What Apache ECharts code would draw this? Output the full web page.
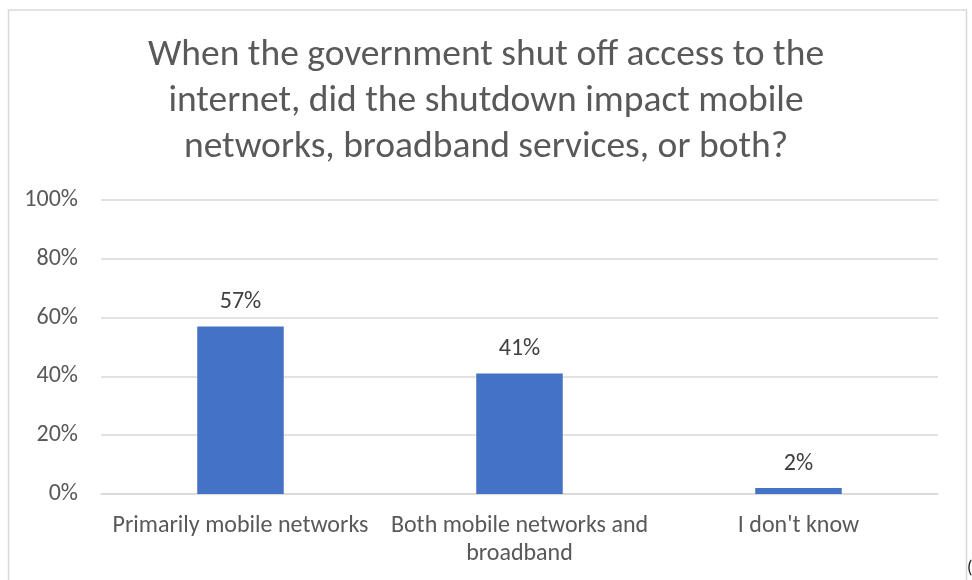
<!DOCTYPE html>
<html>
<head>
<meta charset="utf-8">
<script src="https://cdn.jsdelivr.net/npm/echarts@6/dist/echarts.min.js"></script>
<style>
  html, body { margin: 0; padding: 0; background: #fff; }
  #chart { width: 972px; height: 580px; }
</style>
</head>
<body>
<div id="chart"></div>
<script>
// Survey answers and their shares (percent)
const categories = ['Primarily mobile networks', 'Both mobile networks and\nbroadband', "I don't know"];
const shares = [57, 41, 2];
const yTicks = { min: 0, max: 100, step: 20 };
const titleText = 'When the government shut off access to the\ninternet, did the shutdown impact mobile\nnetworks, broadband services, or both?';

const FONT = 'Carlito, Lato, "Liberation Sans", sans-serif';

const chart = echarts.init(document.getElementById('chart'), null, { renderer: 'canvas' });
chart.setOption({
  backgroundColor: '#ffffff',
  animation: false,
  title: {
    text: titleText,
    left: 'center',
    top: 28,
    textStyle: {
      fontFamily: FONT,
      fontSize: 37.5,
      fontWeight: 'normal',
      color: '#595959',
      lineHeight: 46,
      align: 'center'
    }
  },
  graphic: [
    {
      type: 'rect',
      shape: { x: 8.5, y: 10, width: 958, height: 620 },
      style: { fill: 'none', stroke: '#d9d9d9', lineWidth: 1.5 },
      silent: true
    },
    {
      type: 'text',
      left: 967,
      top: 559,
      style: { text: '(', fontFamily: FONT, fontSize: 18, fill: '#222' },
      silent: true
    }
  ],
  grid: { left: 101, right: 34, top: 200, bottom: 86 },
  xAxis: {
    type: 'category',
    data: categories,
    axisLine: { show: true, lineStyle: { color: '#d9d9d9', width: 1.5 } },
    axisTick: { show: false },
    axisLabel: {
      interval: 0,
      margin: 18,
      fontFamily: FONT,
      fontSize: 24,
      color: '#595959',
      lineHeight: 28
    }
  },
  yAxis: {
    type: 'value',
    min: yTicks.min,
    max: yTicks.max,
    interval: yTicks.step,
    axisLine: { show: false },
    axisTick: { show: false },
    splitLine: { lineStyle: { color: '#d9d9d9', width: 1.5 } },
    axisLabel: {
      formatter: '{value}%',
      margin: 23,
      fontFamily: FONT,
      fontSize: 24,
      color: '#595959'
    }
  },
  series: [{
    type: 'bar',
    data: shares,
    barWidth: '31%',
    itemStyle: { color: '#4472c4' },
    label: {
      show: true,
      position: 'top',
      distance: 12,
      formatter: '{c}%',
      fontFamily: FONT,
      fontSize: 24,
      color: '#404040'
    }
  }]
});
</script>
</body>
</html>
